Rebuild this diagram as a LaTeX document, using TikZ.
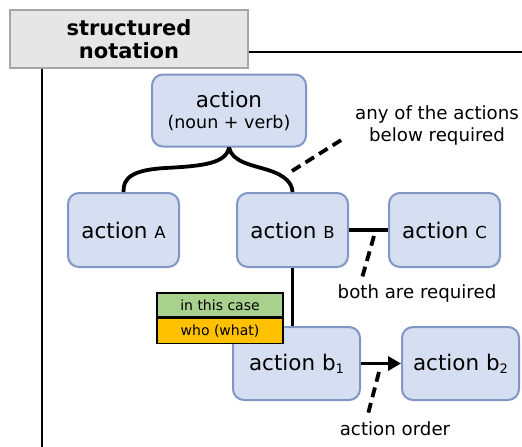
\documentclass[tikz,border=0pt]{standalone}
\usepackage{fontspec}
\setmainfont{DejaVu Sans}
\usetikzlibrary{arrows.meta}
\definecolor{boxfill}{RGB}{214,223,241}
\definecolor{boxline}{RGB}{128,150,196}
\definecolor{titlefill}{RGB}{231,230,230}
\definecolor{titleline}{RGB}{165,165,165}
\definecolor{casegreen}{RGB}{169,209,142}
\definecolor{caseorange}{RGB}{255,192,0}
\newcommand{\smallcap}[1]{{\fontsize{16.5}{16.5}\selectfont #1}}
\newcommand{\lowidx}[1]{\raisebox{-3pt}{\fontsize{13}{13}\selectfont #1}}
\tikzset{
  actbox/.style={draw=boxline, line width=2pt, fill=boxfill, rounded corners=11pt,
    minimum width=111pt, minimum height=74pt, inner sep=0pt,
    font=\fontsize{21.5}{24}\selectfont, align=center},
  titlebox/.style={draw=titleline, line width=2pt, fill=titlefill,
    minimum width=238pt, minimum height=58pt, inner sep=0pt,
    font=\fontsize{21}{23}\selectfont\bfseries, align=center},
  casebox/.style={draw=black, line width=1.3pt, minimum width=126pt, inner sep=0pt,
    font=\fontsize{14}{16}\selectfont},
  link/.style={line width=3.8pt},
  hint/.style={line width=3.8pt, dash pattern=on 10pt off 6pt},
  note/.style={font=\fontsize{18.2}{22}\selectfont, align=center, inner sep=0pt},
  frame/.style={line width=2.8pt}
}
\begin{document}
\begin{tikzpicture}[x=1pt, y=-1pt]
\useasboundingbox (0,0) rectangle (522,447);

% title and open frame
\node[titlebox] (title) at (129,39) {structured\\notation};
\coordinate (frameTR) at (522,52);
\coordinate (frameBL) at (42,447);
\draw[frame] (title.east |- frameTR) -- (frameTR);
\draw[frame] (title.south -| frameBL) -- (frameBL);

% action boxes
\node[actbox, minimum width=154pt, minimum height=72pt] (act) at (229,110.5)
  {action\\[-3pt]{\fontsize{17.5}{20}\selectfont (noun + verb)}};
\node[actbox] (A) at (123.5,230) {action \smallcap{A}};
\node[actbox] (B) at (292.5,230) {action \smallcap{B}};
\node[actbox] (C) at (444.5,230) {action \smallcap{C}};
\node[actbox, minimum width=127pt, minimum height=73pt] (b1) at (296.5,363.5) {action b\lowidx{1}};
\node[actbox, minimum width=117pt, minimum height=73pt] (b2) at (460.5,363.5) {action b\lowidx{2}};

% brace: any one of the actions below
\draw[link] (act.south) .. controls (226,163) and (205,166) .. (165,168)
  .. controls (132,170) and (123,178) .. (A.north);
\draw[link] (act.south) .. controls (232,162) and (252,165) .. (268,170)
  .. controls (287,176) and (292,184) .. (B.north);

% both required, then ordered steps
\draw[link] (B.east) -- (C.west);
\draw[link] (B.south) -- (B.south |- b1.north);
\draw[link, -{Triangle[length=13pt, width=14pt]}] (b1.east) -- (b2.west);

% case labels
\node[casebox, fill=casegreen, minimum height=24pt] (case) at (220,305) {in this case};
\node[casebox, fill=caseorange, minimum height=25pt, anchor=north] (who) at (case.south) {who (what)};

% notes with dashed pointers
\node[note] (anyNote) at (437,125) {any of the actions\\below required};
\coordinate (anyA) at (292,171);
\coordinate (anyB) at (346,137);
\draw[hint] (anyA) -- (anyB);

\node[note] (bothNote) at (417,293) {both are required};
\coordinate (bothA) at (374,236);
\coordinate (bothB) at (362,278);
\draw[hint] (bothA) -- (bothB);

\node[note] (orderNote) at (395,429) {action order};
\coordinate (orderA) at (379,372);
\coordinate (orderB) at (368,414);
\draw[hint] (orderA) -- (orderB);
\end{tikzpicture}
\end{document}
